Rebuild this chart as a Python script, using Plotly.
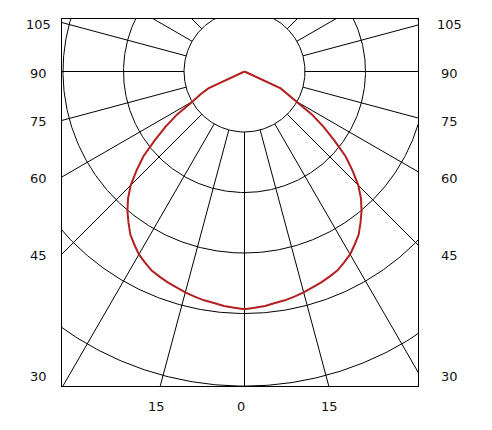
import numpy as np
import plotly.graph_objects as go

# luminous intensity per half-plane, angle measured from nadir (symmetric)
angles = [i * 2.5 for i in range(37)]
intensity = [393, 391, 389, 386, 384, 381, 378, 374, 371, 367, 363, 356,
             349, 339, 329, 315, 301, 285, 266, 242, 218, 187, 160, 132,
             99, 83, 66, 0, 0, 0, 0, 0, 0, 0, 0, 0, 0]

# polar grid
hole_radius = 100
grid_circles = [200, 300, 400, 520]
grid_angles = list(range(-180, 181, 15))

# tick labels round the frame
side_labels = [105, 90, 75, 60, 45, 30]
bottom_labels = [-15, 0, 15]

X_RANGE = [-301.65, 286.78]
Y_RANGE = [-519.8, 86.78]


def to_xy(r, deg):
    t = np.radians(deg)
    return np.asarray(r) * np.sin(t), -np.asarray(r) * np.cos(t)


fig = go.Figure()

# radial lines, starting at the hole
rx, ry = [], []
for a in grid_angles:
    x, y = to_xy([hole_radius, 3000], [a, a])
    rx += list(x) + [None]
    ry += list(y) + [None]
fig.add_trace(go.Scatter(x=rx, y=ry, mode="lines", hoverinfo="skip",
                         line=dict(color="black", width=1)))

# circles
theta = np.linspace(0, 360, 721)
for r in [hole_radius] + grid_circles:
    x, y = to_xy(np.full_like(theta, r), theta)
    fig.add_trace(go.Scatter(x=x, y=y, mode="lines", hoverinfo="skip",
                             line=dict(color="black", width=1)))

# intensity curve, mirrored to both sides
full_angles = [-a for a in angles[::-1]] + angles[1:]
full_vals = intensity[::-1] + intensity[1:]
cx, cy = to_xy(full_vals, full_angles)
fig.add_trace(go.Scatter(x=cx, y=cy, mode="lines",
                         line=dict(color="#b22020", width=2)))

font = dict(family="DejaVu Sans", size=13, color="#111")
for a in side_labels:
    y = -abs(X_RANGE[0]) / np.tan(np.radians(a))
    y = max(y, Y_RANGE[0] + 18)
    for xp in (-0.066, 1.0885):
        fig.add_annotation(x=xp, xref="paper", y=y, yref="y", text=str(a),
                           showarrow=False, font=font, xanchor="center",
                           yanchor="middle", yshift=-1.5)
for a in bottom_labels:
    x = abs(Y_RANGE[0]) * np.tan(np.radians(a))
    fig.add_annotation(x=x, xref="x", y=-0.0559, yref="paper", text=str(abs(a)),
                       showarrow=False, font=font, xanchor="center",
                       yanchor="middle", xshift=-4 if a <= 0 else 1)

axis = dict(showgrid=False, zeroline=False, showticklabels=False,
            ticks="", showline=True, mirror=True, linecolor="black",
            linewidth=1, fixedrange=True)
fig.update_xaxes(**axis, range=X_RANGE)
fig.update_yaxes(**axis, range=Y_RANGE)
# page body adds an 8px offset, so the figure is sized to fit inside the window
fig.update_layout(width=484, height=422, showlegend=False,
                  margin=dict(l=54, r=74, t=11, b=44),
                  plot_bgcolor="white", paper_bgcolor="white")

fig.write_html("out.html")
